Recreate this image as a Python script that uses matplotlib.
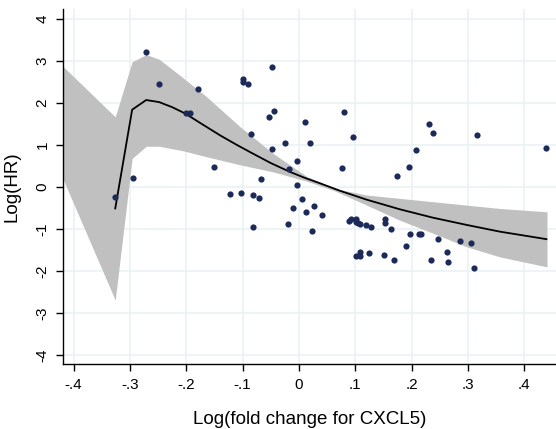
import matplotlib
matplotlib.use("Agg")
import matplotlib.pyplot as plt

plt.rcParams['font.family'] = ['Liberation Sans', 'DejaVu Sans']

# scatter: log fold change vs log(HR)
fold_change = [
    -0.326, -0.295, -0.271, -0.248, -0.200, -0.194, -0.180, -0.151,
    -0.123, -0.102, -0.099, -0.099, -0.090, -0.086, -0.082, -0.081,
    -0.071, -0.067, -0.054, -0.048, -0.047, -0.044, -0.025, -0.020,
    -0.017, -0.011, -0.004, -0.004, 0.005, 0.011, 0.012, 0.020,
    0.023, 0.026, 0.041, 0.077, 0.079, 0.089, 0.092, 0.096,
    0.101, 0.102, 0.102, 0.105, 0.109, 0.109, 0.109, 0.119,
    0.125, 0.127, 0.151, 0.152, 0.152, 0.163, 0.168, 0.174,
    0.190, 0.196, 0.197, 0.207, 0.213, 0.217, 0.231, 0.235,
    0.237, 0.247, 0.263, 0.265, 0.285, 0.305, 0.310, 0.315,
    0.439,
]
log_hr = [
    -0.24, 0.21, 3.22, 2.45, 1.77, 1.77, 2.33, 0.48,
    -0.16, -0.14, 2.58, 2.51, 2.44, 1.25, -0.20, -0.96,
    -0.25, 0.19, 1.66, 2.86, 0.91, 1.82, 1.04, -0.87,
    0.44, -0.51, 0.62, 0.06, -0.29, 1.54, -0.59, 1.05,
    -1.04, -0.44, -0.67, 0.45, 1.78, -0.81, -0.77, 1.20,
    -1.64, -0.75, -0.83, -0.86, -0.88, -1.64, -1.54, -0.91,
    -1.58, -0.94, -1.61, -0.75, -0.85, -0.99, -1.73, 0.26,
    -1.40, 0.48, -1.11, 0.89, -1.11, -1.11, 1.51, -1.74,
    1.28, -1.23, -1.54, -1.79, -1.29, -1.33, -1.92, 1.24,
    0.92,
]

# fitted curve
fit_x = [-0.326, -0.296, -0.271, -0.248, -0.225, -0.202, -0.170, -0.140,
         -0.110, -0.081, -0.050, -0.016, 0.010, 0.037, 0.073, 0.120,
         0.179, 0.238, 0.297, 0.356, 0.439]
fit_y = [-0.51, 1.84, 2.07, 2.02, 1.90, 1.75, 1.48, 1.23,
         1.00, 0.79, 0.57, 0.36, 0.22, 0.09, -0.09, -0.30,
         -0.53, -0.73, -0.90, -1.06, -1.24]

# confidence band
ci_x = [-0.418, -0.326, -0.296, -0.271, -0.248, -0.205, -0.164, -0.105,
        -0.046, 0.014, 0.065, 0.120, 0.179, 0.238, 0.297, 0.356, 0.440]
ci_upper = [2.86, 1.67, 2.98, 3.15, 3.04, 2.59, 2.15, 1.44,
            0.80, 0.25, -0.04, -0.19, -0.27, -0.35, -0.43, -0.51, -0.59]
ci_lower = [0.17, -2.69, 0.68, 0.97, 0.97, 0.86, 0.72, 0.53,
            0.36, 0.14, -0.10, -0.43, -0.79, -1.10, -1.42, -1.66, -1.90]

xticks = [-0.4, -0.3, -0.2, -0.1, 0, 0.1, 0.2, 0.3, 0.4]
xticklabels = ['-.4', '-.3', '-.2', '-.1', '0', '.1', '.2', '.3', '.4']
yticks = [-4, -3, -2, -1, 0, 1, 2, 3, 4]
yticklabels = ['-4', '-3', '-2', '-1', '0', '1', '2', '3', '4']

fig = plt.figure(figsize=(5.56, 4.29), dpi=100)
ax = fig.add_axes([0.114, 0.1515, 0.886, 0.828])

ax.fill_between(ci_x, ci_lower, ci_upper, color='#c0c0c0', linewidth=0, zorder=2)
ax.plot(fit_x, fit_y, color='black', linewidth=1.3, zorder=3)
ax.scatter(fold_change, log_hr, s=20, color='#1b2a58', linewidths=0, zorder=4)

ax.set_xlim(-0.418, 0.456)
ax.set_ylim(-4.21, 4.24)
ax.set_xticks(xticks)
ax.set_xticklabels(xticklabels)
ax.set_yticks(yticks)
ax.set_yticklabels(yticklabels, rotation=90, va='center')

ax.grid(True, color='#eaf2f3', linewidth=1.2, zorder=0)
ax.set_axisbelow(True)
for side in ['top', 'right']:
    ax.spines[side].set_visible(False)
for side in ['left', 'bottom']:
    ax.spines[side].set_color('black')
    ax.spines[side].set_linewidth(1.0)
ax.tick_params(direction='out', length=5, width=1.0, labelsize=11, pad=5)

ax.set_xlabel('Log(fold change for CXCL5)', fontsize=13.5, labelpad=14)
ax.set_ylabel('Log(HR)', fontsize=13.5, labelpad=11)

fig.savefig('out.png', dpi=100)
